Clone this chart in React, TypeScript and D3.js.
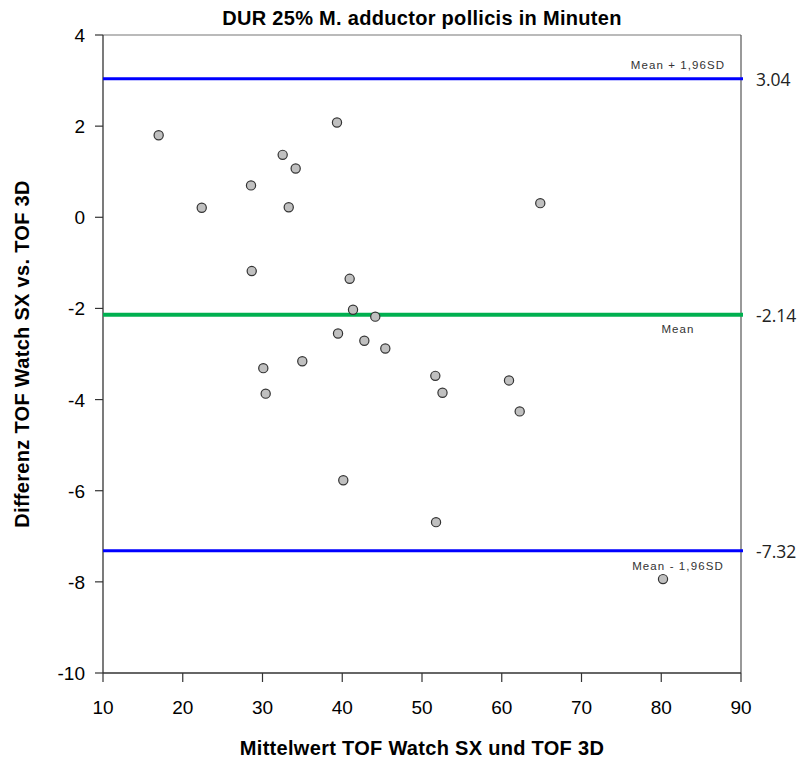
import React from "react";
import * as d3 from "d3";

const meanX: number[] = [16.98, 22.38, 28.56, 32.53, 34.16, 33.29, 39.34, 64.83, 28.65, 40.93, 41.35, 44.14, 39.47, 42.77, 45.4, 34.99, 30.1, 30.4, 51.67, 52.57, 60.91, 62.25, 40.13, 51.76, 80.22];
const diffY: number[] = [1.8, 0.21, 0.7, 1.37, 1.07, 0.22, 2.08, 0.31, -1.18, -1.35, -2.03, -2.18, -2.55, -2.71, -2.88, -3.16, -3.31, -3.87, -3.48, -3.85, -3.58, -4.26, -5.77, -6.69, -7.94];
const xTicks: number[] = [10, 20, 30, 40, 50, 60, 70, 80, 90];
const yTicks: number[] = [4, 2, 0, -2, -4, -6, -8, -10];
const refValues: number[] = [3.04, -2.14, -7.32];
const refLabels: string[] = ["Mean + 1,96SD", "Mean", "Mean - 1,96SD"];
const refValueLabels: string[] = ["3.04", "-2.14", "-7.32"];

const W = 801, H = 763;
const L = 103, R = 741, T = 35, B = 673;

export default function App() {
  const x = d3.scaleLinear().domain([10, 90]).range([L, R]);
  const y = d3.scaleLinear().domain([-10, 4]).range([B, T]);
  const refColors = ["#0000ff", "#00b050", "#0000ff"];
  const refWidths = [3, 4, 3];
  const labelDy = [-10, 18, 19];
  const sans = "'Liberation Sans', Arial, sans-serif";
  return (
    <svg width={W} height={H} style={{ position: "absolute", left: 0, top: 0, background: "#fff" }}>
      <text x={422} y={25} textAnchor="middle" fontFamily={sans} fontWeight="bold" fontSize={20} letterSpacing={0.3} fill="#000">
        DUR 25% M. adductor pollicis in Minuten
      </text>
      {/* frame */}
      <line x1={L} x2={R} y1={T} y2={T} stroke="#777" strokeWidth={1.2} />
      <line x1={R} x2={R} y1={T} y2={B} stroke="#555" strokeWidth={1.2} />
      <line x1={L} x2={L} y1={T} y2={B} stroke="#333" strokeWidth={1.3} />
      <line x1={L} x2={R} y1={B} y2={B} stroke="#333" strokeWidth={1.3} />
      {yTicks.map((t) => (
        <g key={"y" + t}>
          <line x1={L - 8} x2={L} y1={y(t)} y2={y(t)} stroke="#333" strokeWidth={1.2} />
          <text x={L - 18} y={y(t) + 7} textAnchor="end" fontFamily={sans} fontSize={19} fill="#000">
            {t}
          </text>
        </g>
      ))}
      {xTicks.map((t) => (
        <g key={"x" + t}>
          <line x1={x(t)} x2={x(t)} y1={B} y2={B + 9} stroke="#333" strokeWidth={1.2} />
          <text x={x(t)} y={714} textAnchor="middle" fontFamily={sans} fontSize={19} fill="#000">
            {t}
          </text>
        </g>
      ))}
      {refValues.map((v, i) => (
        <g key={"r" + i}>
          <line x1={L} x2={R + 2} y1={y(v)} y2={y(v)} stroke={refColors[i]} strokeWidth={refWidths[i]} />
          <text x={678} y={y(v) + labelDy[i]} textAnchor="middle" fontFamily={sans} fontSize={11.5} letterSpacing={1.1} fill="#333">
            {refLabels[i]}
          </text>
          <text x={756} y={y(v) + 7} fontFamily="'Open Sans', sans-serif" fontSize={17.5} fill="#222">
            {refValueLabels[i]}
          </text>
        </g>
      ))}
      {meanX.map((m, i) => (
        <circle key={"p" + i} cx={x(m)} cy={y(diffY[i])} r={4.6} fill="#c0c0c0" stroke="#333" strokeWidth={1.2} />
      ))}
      <text x={422} y={755} textAnchor="middle" fontFamily={sans} fontWeight="bold" fontSize={20} letterSpacing={0.3} fill="#000">
        Mittelwert TOF Watch SX und TOF 3D
      </text>
      <text transform={`translate(29,${354}) rotate(-90)`} textAnchor="middle" fontFamily={sans} fontWeight="bold" fontSize={20} letterSpacing={0.3} fill="#000">
        Differenz TOF Watch SX vs. TOF 3D
      </text>
    </svg>
  );
}
